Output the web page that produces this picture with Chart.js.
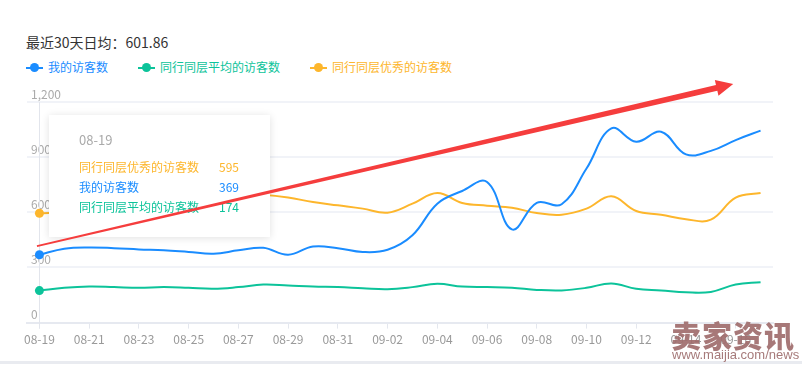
<!DOCTYPE html>
<html>
<head>
<meta charset="utf-8">
<script src="https://cdn.jsdelivr.net/npm/chart.js@4.4.1/dist/chart.umd.min.js"></script>
<style>
  body { margin: 0; background: #fff; font-family: "Noto Sans CJK SC", "Noto Sans", sans-serif; }
  #wrap { position: relative; width: 802px; height: 367px; overflow: hidden; background: #fff; }
  #box { position: absolute; left: 0; top: 0; width: 802px; height: 363px; }
  #overlay { position: absolute; left: 0; top: 0; pointer-events: none; z-index: 3; }
  #title { position: absolute; left: 26px; top: 32px; line-height: 20px; font-size: 14px; color: #333; }
  #legend { position: absolute; left: 26px; top: 58px; display: flex; gap: 30px; font-size: 12px; line-height: 17px; }
  #legend .mk { position: relative; display: inline-block; width: 17px; height: 2px; vertical-align: middle; margin: -2px 5px 0 0; }
  #legend .mk::after { content: ''; position: absolute; left: 4px; top: -3.5px; width: 9px; height: 9px; border-radius: 50%; background: inherit; }
  #tip { position: absolute; display: none; width: 221px; height: 122px; box-sizing: border-box; padding: 16px 30px 0 30px;
         background: #fff; box-shadow: 0 1px 8px rgba(0,0,0,0.12); z-index: 2; font-size: 12px; }
  #tip .tt { color: #aaa; font-size: 13px; line-height: 18px; margin-bottom: 8px; }
  #tip .row { display: flex; line-height: 20px; }
  #tip .nm { width: 140px; }
  #mark { position: absolute; left: 671px; top: 316px; font-size: 30px; font-weight: 900; letter-spacing: 1px; color: rgba(160,108,108,0.92); z-index: 4; line-height: 36px; }
  #site { position: absolute; left: 672px; top: 346px; font-size: 13px; color: #a67a7a; z-index: 4; line-height: 18px; font-family: "Liberation Sans", sans-serif; }
  #base { position: absolute; left: 0; top: 361px; width: 802px; height: 3px; background: #e9ebf0; }
</style>
</head>
<body>
<div id="wrap">
  <div id="title"></div>
  <div id="legend"></div>
  <div id="box"><canvas id="chart"></canvas></div>
  <div id="tip"></div>
  <canvas id="overlay" width="802" height="363"></canvas>
  <div id="mark">卖家资讯</div>
  <div id="site">www.maijia.com/news</div>
  <div id="base"></div>
</div>
<script>
const days = ['08-19','08-20','08-21','08-22','08-23','08-24','08-25','08-26','08-27','08-28',
  '08-29','08-30','08-31','09-01','09-02','09-03','09-04','09-05','09-06','09-07',
  '09-08','09-09','09-10','09-11','09-12','09-13','09-14','09-15','09-16','09-17'];
const myVisitors = [369,402,409,405,398,393,384,375,393,407,369,414,405,384,396,475,647,716,765,507,
  651,644,838,1056,984,1038,915,934,993,1044];
const avgPeers = [174,189,196,193,189,193,189,184,193,207,202,196,193,187,182,193,211,196,193,189,
  178,175,189,213,184,175,165,167,207,220];
const topPeers = [595,600,610,620,635,650,665,685,700,695,680,656,638,620,598,647,705,651,636,625,
  596,587,620,687,607,587,562,560,680,705];
const seriesNames = ['我的访客数','同行同层平均的访客数','同行同层优秀的访客数'];
const seriesColors = ['#1a8cff','#0cc39a','#fdb62c'];
const yTicks = [0,300,600,900,1200];
const avgText = '最近30天日均：601.86';
const activeIndex = 0;
// red trend arrow, in (category index, value)
const arrowFrom = [-0.1, 416];
const arrowTo = [27.9, 1298];

Chart.defaults.font.family = '"Noto Sans CJK SC", "Noto Sans", sans-serif';
Chart.defaults.font.size = 12;

document.getElementById('title').textContent = avgText;
document.getElementById('legend').innerHTML = seriesNames.map((n, i) =>
  `<span style="color:${seriesColors[i]}"><i class="mk" style="background:${seriesColors[i]}"></i>${n}</span>`).join('');

const values = [myVisitors, avgPeers, topPeers];
const datasets = seriesNames.map((name, i) => ({
  label: name,
  data: values[i],
  borderColor: seriesColors[i],
  backgroundColor: seriesColors[i],
  borderWidth: 2,
  tension: 0.4,
  fill: false,
  pointRadius: c => c.dataIndex === activeIndex ? 4.5 : 0,
  pointBorderWidth: 0,
  pointHoverRadius: 4.5,
  pointBackgroundColor: seriesColors[i]
}));

const pointerLine = {
  id: 'pointerLine',
  beforeDatasetsDraw(chart) {
    const {ctx, chartArea} = chart;
    const x = chart.scales.x.getPixelForValue(activeIndex);
    ctx.save();
    ctx.strokeStyle = '#e2e5ec';
    ctx.lineWidth = 1;
    ctx.beginPath();
    ctx.moveTo(Math.round(x) + 0.5, chartArea.top);
    ctx.lineTo(Math.round(x) + 0.5, chartArea.bottom + 6);
    ctx.stroke();
    ctx.restore();
  }
};

const trendArrow = {
  id: 'trendArrow',
  afterDraw(chart) {
    const cv = document.getElementById('overlay');
    const ctx = cv.getContext('2d');
    ctx.clearRect(0, 0, cv.width, cv.height);
    const xs = chart.scales.x, ys = chart.scales.y;
    const x0 = xs.getPixelForValue(arrowFrom[0]), y0 = ys.getPixelForValue(arrowFrom[1]);
    const x1 = xs.getPixelForValue(arrowTo[0]), y1 = ys.getPixelForValue(arrowTo[1]);
    const len = Math.hypot(x1 - x0, y1 - y0);
    const ux = (x1 - x0) / len, uy = (y1 - y0) / len;
    const nx = -uy, ny = ux;
    const head = 17, hw = 8, w0 = 0.8, w1 = 3;
    const bx = x1 - ux * head, by = y1 - uy * head;
    ctx.fillStyle = '#f53d3d';
    ctx.beginPath();
    ctx.moveTo(x0 + nx * w0, y0 + ny * w0);
    ctx.lineTo(bx + nx * w1, by + ny * w1);
    ctx.lineTo(bx + nx * hw, by + ny * hw);
    ctx.lineTo(x1, y1);
    ctx.lineTo(bx - nx * hw, by - ny * hw);
    ctx.lineTo(bx - nx * w1, by - ny * w1);
    ctx.lineTo(x0 - nx * w0, y0 - ny * w0);
    ctx.closePath();
    ctx.fill();
  }
};

function renderTip({chart, tooltip}) {
  const el = document.getElementById('tip');
  if (tooltip.opacity === 0) { el.style.display = 'none'; return; }
  el.innerHTML = `<div class="tt">${tooltip.title[0]}</div>` + tooltip.dataPoints.map(p =>
    `<div class="row" style="color:${p.dataset.borderColor}"><span class="nm">${p.dataset.label}</span><span>${p.raw}</span></div>`).join('');
  el.style.left = (chart.chartArea.left + 22) + 'px';
  el.style.top = (chart.chartArea.top + 13) + 'px';
  el.style.display = 'block';
}

const chart = new Chart(document.getElementById('chart'), {
  type: 'line',
  data: { labels: days, datasets },
  options: {
    responsive: true,
    maintainAspectRatio: false,
    animation: false,
    layout: { padding: { left: 19, right: 29, top: 102, bottom: 12 } },
    interaction: { mode: 'index', intersect: false },
    plugins: {
      legend: { display: false },
      tooltip: {
        enabled: false,
        external: renderTip,
        itemSort: (a, b) => b.raw - a.raw
      }
    },
    scales: {
      x: {
        offset: true,
        grid: { drawOnChartArea: false, drawTicks: true, tickLength: 6, color: '#e4e7ee' },
        border: { color: '#e6e9f0', width: 2 },
        ticks: {
          autoSkip: false, maxRotation: 0, color: '#999', padding: 4,
          callback: (v, i) => i % 2 === 0 ? days[i] : null
        }
      },
      y: {
        min: yTicks[0],
        max: yTicks[yTicks.length - 1],
        afterBuildTicks: s => { s.ticks = yTicks.map(v => ({ value: v })); },
        grid: { color: '#f1f3f8', lineWidth: 2, drawTicks: false },
        border: { display: false },
        ticks: { mirror: true, padding: 4, labelOffset: -8, color: '#aaa' }
      }
    }
  },
  plugins: [pointerLine, trendArrow]
});

const act = [0, 1, 2].map(d => ({ datasetIndex: d, index: activeIndex }));
chart.tooltip.setActiveElements(act, { x: chart.scales.x.getPixelForValue(activeIndex), y: chart.chartArea.top });
chart.update();
</script>
</body>
</html>
